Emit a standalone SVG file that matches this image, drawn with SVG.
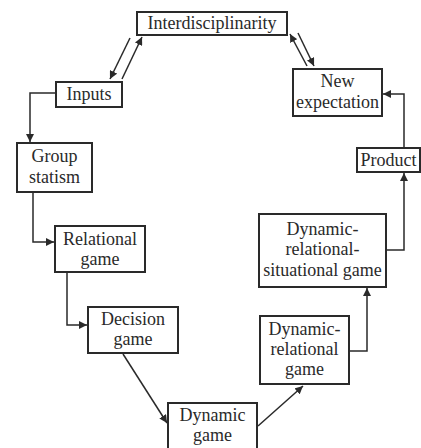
<svg xmlns="http://www.w3.org/2000/svg" width="421" height="448" viewBox="0 0 421 448">
<style>
.box{fill:#fff;stroke:#2a2a2a;stroke-width:2}
.t{font-family:"Liberation Serif","Times New Roman",serif;font-size:18px;fill:#2a2a2a;text-anchor:middle}
.c{fill:none;stroke:#2a2a2a;stroke-width:1.5}
</style>
<defs>
<marker id="ah" markerUnits="userSpaceOnUse" markerWidth="9" markerHeight="8" refX="8" refY="4" orient="auto">
<path d="M0,0 L8,4 L0,8 Z" fill="#2a2a2a"/>
</marker>
</defs>
<rect width="421" height="448" fill="#fff"/>
<g id="connectors">
<line class="c" x1="130" y1="38" x2="110" y2="79" marker-end="url(#ah)"/>
<line class="c" x1="122" y1="79" x2="142" y2="37" marker-end="url(#ah)"/>
<line class="c" x1="298" y1="33" x2="314" y2="66" marker-end="url(#ah)"/>
<line class="c" x1="307" y1="66" x2="290" y2="34" marker-end="url(#ah)"/>
<polyline class="c" points="56,93 30,93 30,142" marker-end="url(#ah)"/>
<polyline class="c" points="33,192 33,242 54,242" marker-end="url(#ah)"/>
<polyline class="c" points="67,272 67,325 87,325" marker-end="url(#ah)"/>
<line class="c" x1="123" y1="354" x2="167" y2="423" marker-end="url(#ah)"/>
<line class="c" x1="258" y1="426" x2="303" y2="386" marker-end="url(#ah)"/>
<polyline class="c" points="349,351 367,351 367,288" marker-end="url(#ah)"/>
<polyline class="c" points="386,250 404,250 404,173" marker-end="url(#ah)"/>
<polyline class="c" points="404,148 404,94 383,94" marker-end="url(#ah)"/>
</g>
<g id="interdisciplinarity">
<rect class="box" x="137" y="12" width="150" height="23"/>
<text class="t" x="212" y="29">Interdisciplinarity</text>
</g>
<g id="inputs">
<rect class="box" x="56" y="82" width="66" height="25"/>
<text class="t" x="89" y="100">Inputs</text>
</g>
<g id="group-statism">
<rect class="box" x="17" y="143" width="75" height="49"/>
<text class="t" x="54.5" y="162">Group</text>
<text class="t" x="54.5" y="183">statism</text>
</g>
<g id="new-expectation">
<rect class="box" x="293" y="69" width="89" height="47"/>
<text class="t" x="337.5" y="87">New</text>
<text class="t" x="337.5" y="108">expectation</text>
</g>
<g id="product">
<rect class="box" x="357" y="148" width="63" height="24"/>
<text class="t" x="388.5" y="166">Product</text>
</g>
<g id="relational-game">
<rect class="box" x="55" y="226" width="90" height="46"/>
<text class="t" x="100" y="245">Relational</text>
<text class="t" x="100" y="265">game</text>
</g>
<g id="decision-game">
<rect class="box" x="88" y="307" width="90" height="46"/>
<text class="t" x="133" y="325">Decision</text>
<text class="t" x="133" y="345">game</text>
</g>
<g id="dynamic-relational-situational-game">
<rect class="box" x="259" y="214" width="127" height="73"/>
<text class="t" x="322.5" y="235">Dynamic-</text>
<text class="t" x="322.5" y="255">relational-</text>
<text class="t" x="322.5" y="276">situational game</text>
</g>
<g id="dynamic-relational-game">
<rect class="box" x="260" y="316" width="89" height="68"/>
<text class="t" x="304.5" y="335">Dynamic-</text>
<text class="t" x="304.5" y="355">relational</text>
<text class="t" x="304.5" y="375">game</text>
</g>
<g id="dynamic-game">
<rect class="box" x="168" y="403" width="89" height="60"/>
<text class="t" x="212.5" y="421">Dynamic</text>
<text class="t" x="212.5" y="441">game</text>
</g>
</svg>
